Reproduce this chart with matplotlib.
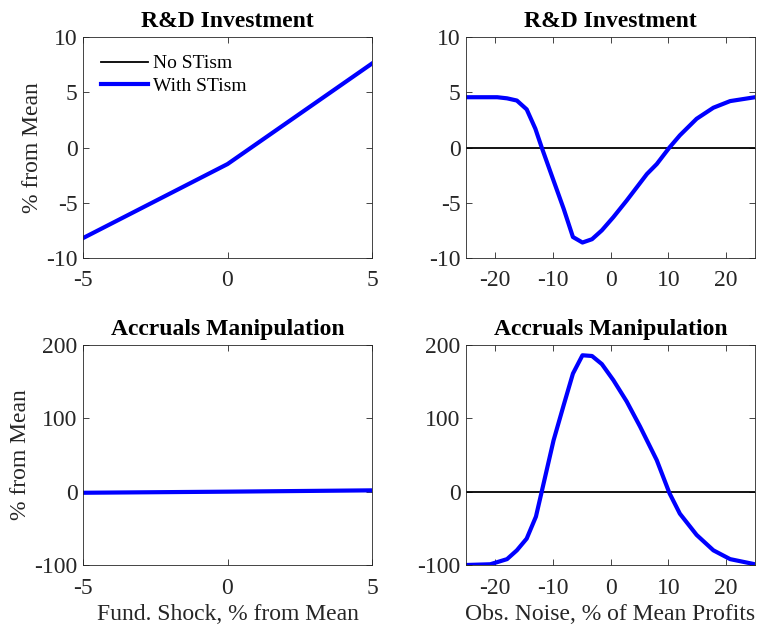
import matplotlib
matplotlib.use("Agg")
import matplotlib.pyplot as plt

plt.rcParams['font.family'] = ['Liberation Serif', 'DejaVu Serif']
plt.rcParams['axes.unicode_minus'] = False

# Left panels: fundamental shock
shock_x = [-5, 0, 5]
rd_shock = [-8.2, -1.5, 7.6]
acc_shock = [-1.5, 0.0, 1.8]

# Right panels: observation noise
noise_x = [-25, -19.6, -17.9, -16.2, -14.5, -13.0, -11.9, -9.85, -8.1, -6.5, -4.85,
           -3.2, -1.5, 0.5, 2.8, 6.3, 8.0, 10.2, 12.0, 14.9, 17.8, 20.7, 25]
rd_noise = [4.55, 4.55, 4.45, 4.25, 3.45, 1.7, 0.0, -3.0, -5.55, -8.1, -8.6,
            -8.3, -7.5, -6.3, -4.8, -2.4, -1.5, 0.0, 1.1, 2.6, 3.6, 4.2, 4.55]
acc_noise_x = [-25, -20.8, -17.9, -16.2, -14.5, -12.9, -11.9, -9.85, -8.1, -6.5, -4.85,
               -3.2, -1.5, 0.5, 2.8, 5.1, 8.0, 10.2, 12.0, 14.9, 17.8, 20.7, 25]
acc_noise = [-100, -99, -92, -80, -64, -34, 0, 70, 118, 161, 186,
             185, 174, 152, 123, 89, 43, -2, -30, -59, -80, -92, -99]

titles = ["R&D Investment", "R&D Investment", "Accruals Manipulation", "Accruals Manipulation"]
legend_labels = ["No STism", "With STism"]

W, H = 757, 624
fig = plt.figure(figsize=(W / 100, H / 100), dpi=100)

def ax_at(x0, y0, x1, y1):
    return fig.add_axes([x0 / W, 1 - y1 / H, (x1 - x0) / W, (y1 - y0) / H])

axc = '#262626'
FS = 17
def style(ax):
    ax.tick_params(direction='in', top=True, right=True, length=4, width=0.6,
                   labelsize=FS, colors=axc)
    ax.tick_params(axis='x', pad=9)
    ax.tick_params(axis='y', pad=4)
    for s in ax.spines.values():
        s.set_color(axc)
        s.set_linewidth(0.6)

ax1 = ax_at(83, 37, 372, 258)
ax2 = ax_at(466, 37, 755, 258)
ax3 = ax_at(83, 345, 372, 565)
ax4 = ax_at(466, 345, 755, 565)

blue = '#0000FF'
# top-left
ax1.plot(shock_x, rd_shock, color='black', lw=1.3, label=legend_labels[0])
ax1.plot(shock_x, rd_shock, color=blue, lw=3.0, label=legend_labels[1])
ax1.set_xlim(-5, 5); ax1.set_ylim(-10, 10)
ax1.set_xticks([-5, 0, 5]); ax1.set_yticks([-10, -5, 0, 5, 10])
ax1.legend(loc='upper left', frameon=False, fontsize=14, handlelength=2.4,
           handletextpad=0.3, borderaxespad=0.0, labelspacing=0.25,
           bbox_to_anchor=(0.035, 0.955))

# top-right
ax2.plot([-25, 25], [0, 0], color='black', lw=1.3)
ax2.plot(noise_x, rd_noise, color=blue, lw=3.0)
ax2.set_xlim(-25, 25); ax2.set_ylim(-10, 10)
ax2.set_xticks([-20, -10, 0, 10, 20]); ax2.set_yticks([-10, -5, 0, 5, 10])

# bottom-left
ax3.plot(shock_x, acc_shock, color='black', lw=1.3)
ax3.plot(shock_x, acc_shock, color=blue, lw=3.0)
ax3.set_xlim(-5, 5); ax3.set_ylim(-100, 200)
ax3.set_xticks([-5, 0, 5]); ax3.set_yticks([-100, 0, 100, 200])

# bottom-right
ax4.plot([-25, 25], [0, 0], color='black', lw=1.3)
ax4.plot(acc_noise_x, acc_noise, color=blue, lw=3.0)
ax4.set_xlim(-25, 25); ax4.set_ylim(-100, 200)
ax4.set_xticks([-20, -10, 0, 10, 20]); ax4.set_yticks([-100, 0, 100, 200])

for ax, t in zip([ax1, ax2, ax3, ax4], titles):
    style(ax)
    ax.set_title(t, fontsize=FS, fontweight='bold', pad=7)

ax1.set_ylabel("% from Mean", fontsize=FS, color=axc, labelpad=2)
ax3.set_ylabel("% from Mean", fontsize=FS, color=axc, labelpad=2)
ax3.set_xlabel("Fund. Shock, % from Mean", fontsize=FS, color=axc, labelpad=4)
ax4.set_xlabel("Obs. Noise, % of Mean Profits", fontsize=FS, color=axc, labelpad=4)

fig.savefig("out.png", dpi=100)
